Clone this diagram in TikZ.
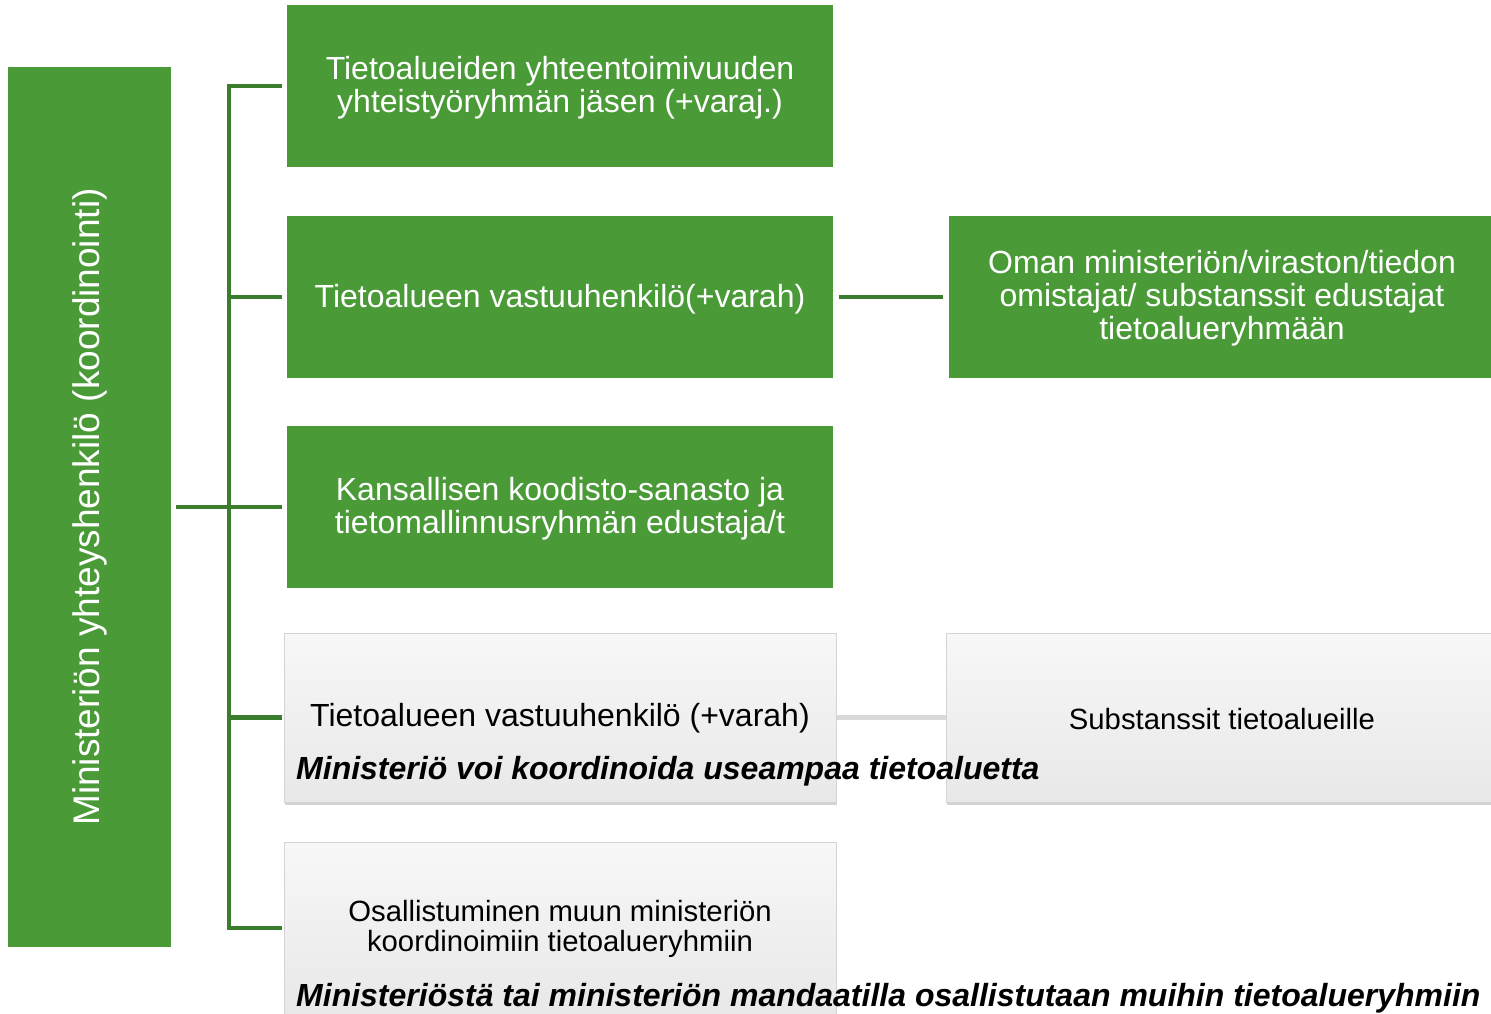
\documentclass[tikz,border=0pt]{standalone}
\usepackage{fontspec}
\setmainfont{Liberation Sans}
\usetikzlibrary{shadows}
\definecolor{boxgreen}{RGB}{74,155,56}
\definecolor{linegreen}{RGB}{58,125,45}
\definecolor{grayline}{RGB}{217,217,217}
\definecolor{grayborder}{RGB}{212,212,212}
\tikzset{
  greenbox/.style={rectangle, fill=boxgreen, draw=none, text=white, align=center, inner sep=0pt,
    font=\fontsize{32}{33}\selectfont},
  graybox/.style={rectangle, top color=white!97!black, bottom color=white!91!black, draw=grayborder, line width=1pt,
    text=black, align=center, inner sep=0pt, font=\fontsize{29.3}{30}\selectfont,
    drop shadow={opacity=0.35, shadow xshift=1pt, shadow yshift=-3pt}},
  conn/.style={draw=linegreen, line width=4.5pt},
  grayconn/.style={draw=grayline, line width=5pt},
  notetext/.style={anchor=west, inner sep=0pt, font=\fontsize{32}{33}\selectfont\bfseries\itshape, text=black}
}
\begin{document}
\begin{tikzpicture}[x=1pt,y=-1pt]
\useasboundingbox (0,0) rectangle (1491,1013);
\clip (0,0) rectangle (1491,1013);
\fill[white] (0,0) rectangle (1491,1013);

% left box
\node[greenbox, minimum width=163pt, minimum height=880pt] (left) at (89.5,507) {};
\node[text=white, rotate=90, inner sep=0pt, font=\fontsize{37}{40}\selectfont] (lefttext) at (89.5,507) {Ministeriön yhteyshenkilö (koordinointi)};

% green boxes
\node[greenbox, minimum width=546pt, minimum height=162pt] (g1) at (560,86) {};
\node[greenbox, minimum width=546pt, minimum height=162pt] (g2) at (560,297) {};
\node[greenbox, minimum width=542pt, minimum height=162pt] (g2r) at (1220,297) {};
\node[greenbox, minimum width=546pt, minimum height=162pt] (g3) at (560,507) {};
\node[greenbox, fill=none] (g1t) at (560,88) {Tietoalueiden yhteentoimivuuden\\yhteistyöryhmän jäsen (+varaj.)};
\node[greenbox, fill=none] (g2t) at (560,299) {Tietoalueen vastuuhenkilö(+varah)};
\node[greenbox, fill=none] (g2rt) at (1222,298) {Oman ministeriön/viraston/tiedon\\omistajat/ substanssit edustajat\\tietoalueryhmään};
\node[greenbox, fill=none] (g3t) at (560,509) {Kansallisen koodisto-sanasto ja\\tietomallinnusryhmän edustaja/t};

% gray boxes
\node[graybox, minimum width=552pt, minimum height=169pt] (w4) at (560,717.5) {};
\node[graybox, minimum width=548pt, minimum height=169pt] (w4r) at (1220,717.5) {};
\node[graybox, minimum width=552pt, minimum height=172pt] (w5) at (560,928) {};

\draw[grayconn] (w4.east) -- (w4r.west);

\node[inner sep=0pt, font=\fontsize{32}{33}\selectfont] (t4) at (560,718) {Tietoalueen vastuuhenkilö (+varah)};
\node[inner sep=0pt, font=\fontsize{29.3}{30}\selectfont] (t4r) at (1222,719) {Substanssit tietoalueille};
\node[notetext] (n4) at (296,771) {Ministeriö voi koordinoida useampaa tietoaluetta};
\node[inner sep=0pt, align=center, font=\fontsize{29.3}{30}\selectfont] (t5) at (560,929) {Osallistuminen muun ministeriön\\koordinoimiin tietoalueryhmiin};
\node[notetext] (n5) at (296,998) {Ministeriöstä tai ministeriön mandaatilla osallistutaan muihin tietoalueryhmiin};

% connectors
\coordinate (spt) at (229,86);
\coordinate (sp2) at (229,297);
\coordinate (sp3) at (229,507);
\coordinate (sp4) at (229,717.5);
\coordinate (spb) at (229,928);
\draw[conn] ([xshift=-5pt]g1.west) -- (spt) -- (spb) -- ([xshift=-2pt]w5.west);
\draw[conn] (sp2) -- ([xshift=-5pt]g2.west);
\draw[conn] ([xshift=5pt]left.east) -- ([xshift=-5pt]g3.west);
\draw[conn] (sp4) -- ([xshift=-2pt]w4.west);
\draw[conn] ([xshift=6pt]g2.east) -- ([xshift=-6pt]g2r.west);
\end{tikzpicture}
\end{document}
